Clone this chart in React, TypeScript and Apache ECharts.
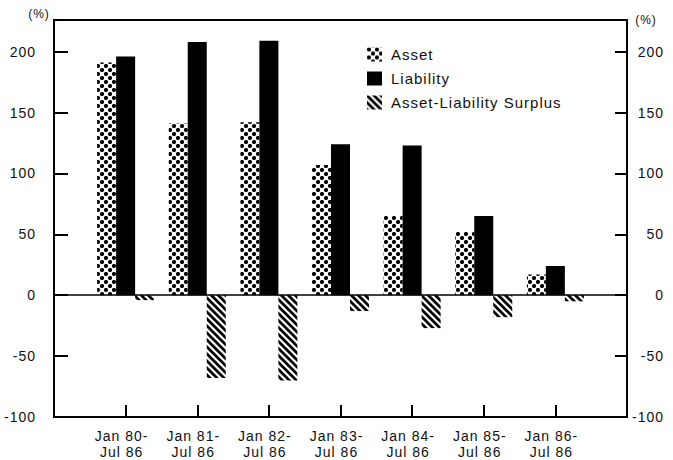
import React, { useEffect, useRef } from "react";
import * as echarts from "echarts";

const categories = [
  "Jan 80-\nJul 86",
  "Jan 81-\nJul 86",
  "Jan 82-\nJul 86",
  "Jan 83-\nJul 86",
  "Jan 84-\nJul 86",
  "Jan 85-\nJul 86",
  "Jan 86-\nJul 86",
];
const assetValues = [191, 141, 142, 107, 65, 52, 17];
const liabilityValues = [196, 208, 209, 124, 123, 65, 24];
const surplusValues = [-4, -68, -70, -13, -27, -18, -5];
const yTicks = { min: -100, max: 226, interval: 50 };

const svgUri = (s: string) => "data:image/svg+xml;charset=utf-8," + encodeURIComponent(s);

const dotTile = svgUri(
  '<svg xmlns="http://www.w3.org/2000/svg" width="8" height="8"><rect width="8" height="8" fill="#fff"/>' +
    '<circle cx="2" cy="2" r="2.1" fill="#000"/><circle cx="6" cy="6" r="2.1" fill="#000"/></svg>'
);
const stripeTile = svgUri(
  '<svg xmlns="http://www.w3.org/2000/svg" width="7" height="7"><rect width="7" height="7" fill="#fff"/>' +
    '<path d="M-1,-1 L8,8 M6,-1 L15,8 M-1,6 L8,15" stroke="#000" stroke-width="2.7"/></svg>'
);

export default function App() {
  const ref = useRef<HTMLDivElement>(null);
  useEffect(() => {
    if (!ref.current) return;
    const chart = echarts.init(ref.current, undefined, { renderer: "svg" });
    const xData = ["", ...categories, ""];
    const pad = (arr: number[]) => ["-", ...arr, "-"];
    const font = "'Liberation Sans', Arial, Helvetica, sans-serif";
    const assetColor: any = { image: dotTile, repeat: "repeat", imageWidth: 8, imageHeight: 8 };
    const surplusColor: any = { image: stripeTile, repeat: "repeat", imageWidth: 7, imageHeight: 7 };
    chart.setOption({
      animation: false,
      backgroundColor: "#fff",
      textStyle: { fontFamily: font, color: "#111" },
      grid: {
        left: 54,
        right: 46,
        top: 20,
        bottom: 41,
        show: true,
        borderColor: "#000",
        borderWidth: 2,
        backgroundColor: "transparent",
      },
      legend: {
        orient: "vertical",
        left: 367,
        top: 47,
        padding: 0,
        itemWidth: 15,
        itemHeight: 14,
        itemGap: 9,
        icon: "rect",
        data: ["Asset", "Liability", "Asset-Liability Surplus"],
        textStyle: { fontSize: 15, color: "#111", fontFamily: font, padding: [0, 0, 0, 4] },
      },
      xAxis: {
        type: "category",
        data: xData,
        boundaryGap: false,
        axisLine: { onZero: false, lineStyle: { color: "#000", width: 2 } },
        axisTick: { inside: true, length: 12, lineStyle: { color: "#000", width: 2 } },
        axisLabel: {
          interval: 0,
          margin: 11,
          fontSize: 14,
          lineHeight: 16,
          color: "#111",
          fontFamily: font,
          padding: [0, 8, 0, 0],
        },
        splitLine: { show: false },
      },
      yAxis: [
        {
          type: "value",
          position: "left",
          min: yTicks.min,
          max: yTicks.max,
          interval: yTicks.interval,
          axisLine: { show: true, lineStyle: { color: "#000", width: 2 } },
          axisTick: { show: true, inside: true, length: 14, lineStyle: { color: "#000", width: 2 } },
          axisLabel: { margin: 18, fontSize: 14, color: "#111", fontFamily: font, showMaxLabel: false },
          splitLine: { show: false },
        },
        {
          type: "value",
          position: "right",
          min: yTicks.min,
          max: yTicks.max,
          interval: yTicks.interval,
          axisLine: { show: true, lineStyle: { color: "#000", width: 2 } },
          axisTick: { show: true, inside: true, length: 12, lineStyle: { color: "#000", width: 2 } },
          axisLabel: {
            margin: 37,
            align: "right",
            fontSize: 14,
            color: "#111",
            fontFamily: font,
            showMaxLabel: false,
          },
          splitLine: { show: false },
        },
      ],
      graphic: [
        { type: "text", x: 39, y: 14, style: { text: "(%)", fontSize: 12, fill: "#111", fontFamily: font, textAlign: "center", textVerticalAlign: "middle" } },
        { type: "text", x: 646, y: 20, style: { text: "(%)", fontSize: 12, fill: "#111", fontFamily: font, textAlign: "center", textVerticalAlign: "middle" } },
      ],
      series: [
        {
          name: "Asset",
          type: "bar",
          data: pad(assetValues),
          barWidth: 19,
          barGap: "0%",
          itemStyle: { color: assetColor },
        },
        {
          name: "Liability",
          type: "bar",
          data: pad(liabilityValues),
          barWidth: 19,
          barGap: "0%",
          itemStyle: { color: "#000" },
          markLine: {
            silent: true,
            symbol: ["none", "none"],
            label: { show: false },
            lineStyle: { color: "#000", width: 1.5, type: "solid" },
            data: [{ yAxis: 0 }],
          },
        },
        {
          name: "Asset-Liability Surplus",
          type: "bar",
          data: pad(surplusValues),
          barWidth: 19,
          barGap: "0%",
          itemStyle: { color: surplusColor },
        },
      ],
    });
    return () => chart.dispose();
  }, []);
  return (
    <div
      ref={ref}
      style={{
        position: "fixed",
        left: 0,
        top: 0,
        width: 673,
        height: 460,
        background: "#fff",
        letterSpacing: "1px",
      }}
    />
  );
}
